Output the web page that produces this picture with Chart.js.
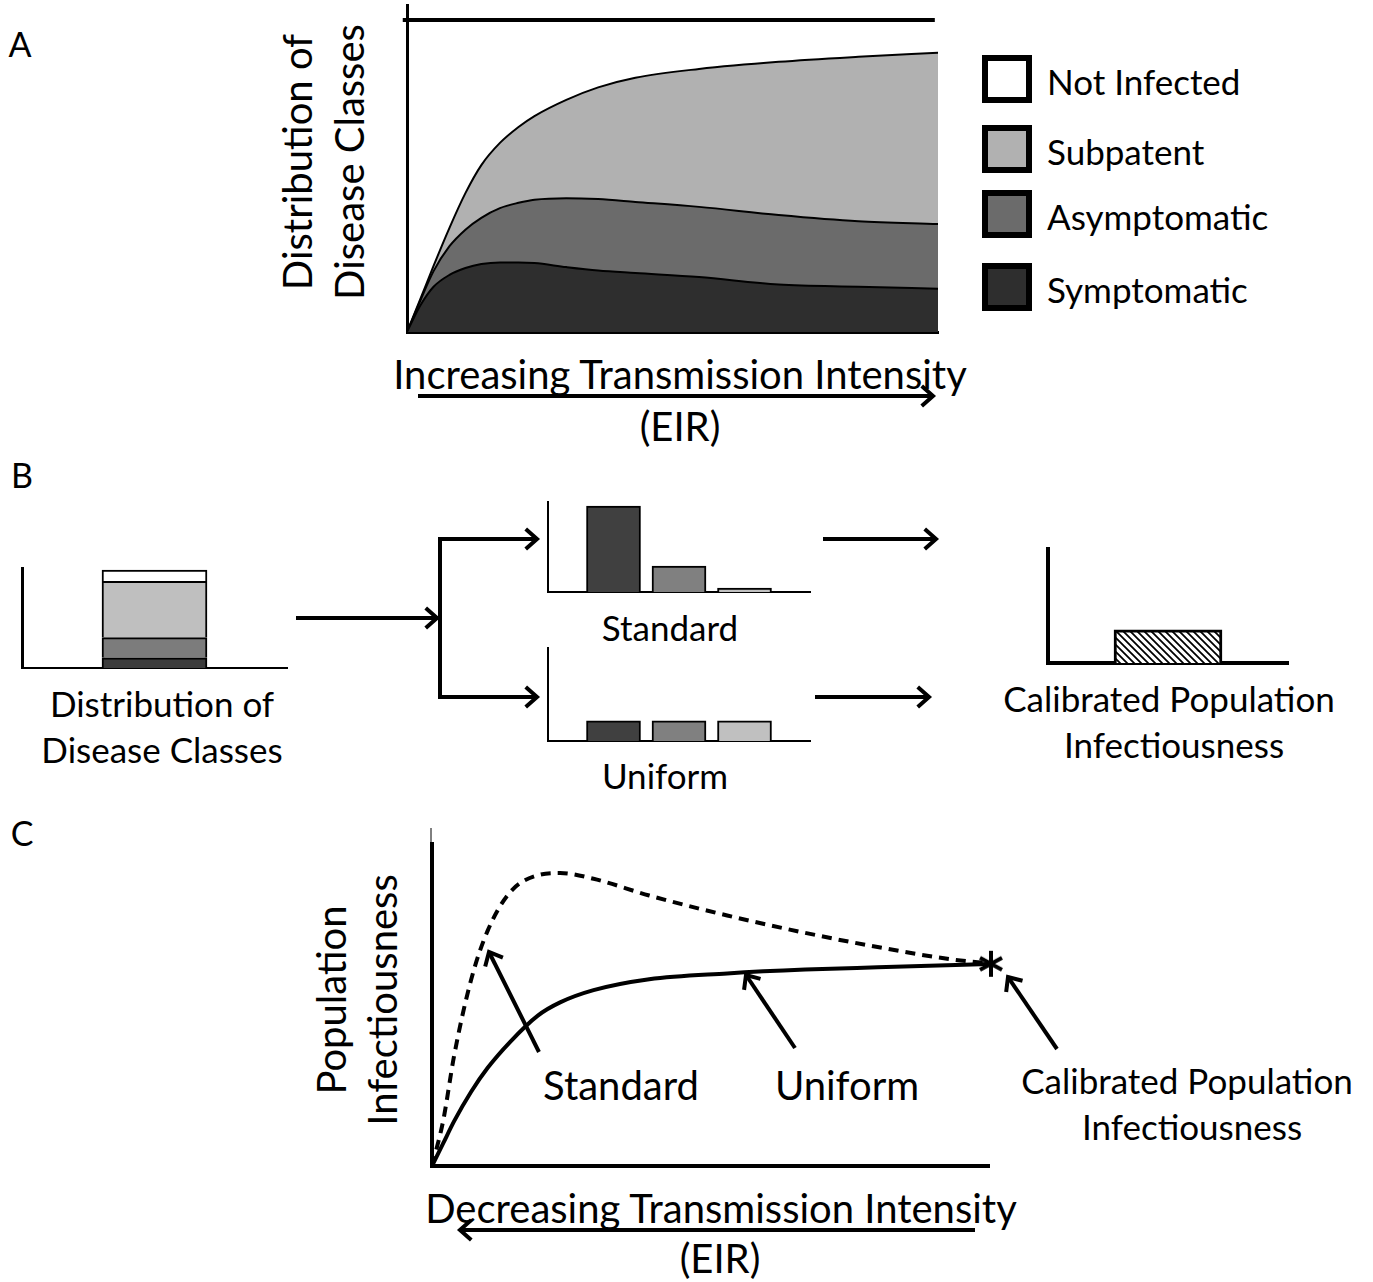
<!DOCTYPE html>
<html>
<head>
<meta charset="utf-8">
<title>Disease classes and population infectiousness</title>
<script src="https://cdn.jsdelivr.net/npm/chart.js@4.4.1/dist/chart.umd.min.js"></script>
<style>
  body { margin: 0; background: #fff; }
  #page { position: relative; width: 1373px; height: 1282px; overflow: hidden; font-family: Lato, "Open Sans", sans-serif; color: #000; }
  canvas { position: absolute; }
  .t { position: absolute; white-space: nowrap; font-size: 35px; line-height: 1; transform: translate(-50%, -50%); }
  .big { font-size: 40px; }
  .rot { position: absolute; white-space: nowrap; font-size: 40px; line-height: 52px; text-align: center; transform: translate(-50%, -50%) rotate(-90deg); }
  .key { position: absolute; left: 982px; width: 38px; height: 36px; border: 6px solid #000; }
  .keytxt { position: absolute; left: 1047px; font-size: 35px; line-height: 1; transform: translateY(-50%); white-space: nowrap; }
  svg { position: absolute; left: 0; top: 0; }
</style>
</head>
<body>
<div id="page">
  <div class="t" style="left:20px;top:44px;font-size:34px">A</div>
  <div class="t" style="left:22px;top:475px;font-size:34px">B</div>
  <div class="t" style="left:22px;top:833px;font-size:34px">C</div>

  <!-- panel A text -->
  <div class="rot" style="left:323px;top:162px">Distribution of<br>Disease Classes</div>
  <div class="t big" style="left:680px;top:374px">Increasing Transmission Intensity</div>
  <div class="t big" style="left:680px;top:426px">(EIR)</div>
  <div id="legendA"></div>

  <!-- panel B text -->
  <div class="t" style="left:162px;top:703px">Distribution of</div>
  <div class="t" style="left:162px;top:749px">Disease Classes</div>
  <div class="t" style="left:670px;top:627px">Standard</div>
  <div class="t" style="left:665px;top:775px">Uniform</div>
  <div class="t" style="left:1169px;top:698px">Calibrated Population</div>
  <div class="t" style="left:1174px;top:744px">Infectiousness</div>

  <!-- panel C text -->
  <div class="rot" style="left:357px;top:1000px;line-height:51px">Population<br>Infectiousness</div>
  <div class="t big" style="left:621px;top:1085px">Standard</div>
  <div class="t big" style="left:847px;top:1085px">Uniform</div>
  <div class="t" style="left:1187px;top:1080px">Calibrated Population</div>
  <div class="t" style="left:1192px;top:1126px">Infectiousness</div>
  <div class="t big" style="left:721px;top:1208px">Decreasing Transmission Intensity</div>
  <div class="t big" style="left:720px;top:1258px">(EIR)</div>

  <svg id="arrows" width="1373" height="1282"></svg>
</div>

<script>
// ---- data ----

// panel A: upper boundary of each (cumulative) disease class along EIR
const eirA = [0, 0.025, 0.05, 0.08, 0.11, 0.14, 0.175, 0.21, 0.24, 0.3, 0.36, 0.43, 0.55, 0.7, 0.85, 1.0];
const symptomaticTop = [0, 0.085, 0.145, 0.183, 0.205, 0.218, 0.223, 0.223, 0.221, 0.208, 0.197, 0.189, 0.176, 0.152, 0.145, 0.139];
const asymptomaticTop = [0, 0.1, 0.195, 0.275, 0.328, 0.366, 0.397, 0.414, 0.424, 0.429, 0.426, 0.417, 0.401, 0.375, 0.355, 0.346];
const subpatentTop = [0, 0.105, 0.212, 0.334, 0.445, 0.535, 0.606, 0.657, 0.692, 0.744, 0.784, 0.815, 0.843, 0.866, 0.882, 0.895];
const notInfectedTop = 1;

const classNames = ['Not Infected', 'Subpatent', 'Asymptomatic', 'Symptomatic'];
const classColors = ['#ffffff', '#b1b1b1', '#6b6b6b', '#2e2e2e'];

// panel B
const stackClasses = ['Symptomatic', 'Asymptomatic', 'Subpatent', 'Not Infected'];
const stackShares = [10.5, 20.5, 57.5, 11.5];
const stackColors = ['#3c3c3c', '#7c7c7c', '#bfbfbf', '#ffffff'];
const infectClasses = ['Symptomatic', 'Asymptomatic', 'Subpatent'];
const infectColors = ['#404040', '#808080', '#c0c0c0'];
const standardInfect = [86, 26, 4];
const uniformInfect = [19.5, 19.5, 19.5];
const calibratedInfect = [29];

// panel C
const eirC = [0, 0.02, 0.04, 0.07, 0.1, 0.14, 0.19, 0.23, 0.29, 0.39, 0.53, 0.67, 0.8, 0.94, 1.0];
const standardCurve = [0, 0.14, 0.345, 0.577, 0.731, 0.85, 0.903, 0.91, 0.892, 0.84, 0.778, 0.724, 0.68, 0.64, 0.63];
const uniformCurve = [0, 0.07, 0.14, 0.23, 0.305, 0.385, 0.467, 0.508, 0.546, 0.58, 0.598, 0.61, 0.617, 0.624, 0.627];
const calibratedPoint = { x: 1.0, y: 0.628 };

// ---- helpers ----
const PAD = 14;
const page = document.getElementById('page');

// canvas sized so that the chart area lands on (left, top, w, h)
function makeChart(left, top, w, h, config) {
  const cv = document.createElement('canvas');
  cv.width = w + 2 * PAD;
  cv.height = h + 2 * PAD;
  cv.style.left = (left - PAD) + 'px';
  cv.style.top = (top - PAD) + 'px';
  page.insertBefore(cv, document.getElementById('arrows'));
  return new Chart(cv, config);
}

function axis(extra, width, horizontal) {
  return Object.assign({
    grid: { display: false, drawTicks: false },
    ticks: { display: false },
    border: { display: true, color: '#000', width: width },
    afterFit: s => { if (horizontal) s.height = 0; else s.width = 0; }
  }, extra);
}

function baseOptions(xs, ys) {
  return {
    responsive: false,
    animation: false,
    layout: { padding: PAD },
    plugins: { legend: { display: false }, tooltip: { enabled: false } },
    scales: { x: xs, y: ys }
  };
}

const pts = (xs, ys) => xs.map((x, i) => ({ x: x, y: ys[i] }));

// ---- panel A ----
const lineStyle = { borderColor: '#000', borderWidth: 2, pointRadius: 0, cubicInterpolationMode: 'monotone' };
makeChart(407, 5, 531, 327, {
  type: 'line',
  data: {
    datasets: [
      Object.assign({ label: 'Symptomatic', data: pts(eirA, symptomaticTop), fill: 'origin', backgroundColor: classColors[3] }, lineStyle),
      Object.assign({ label: 'Asymptomatic', data: pts(eirA, asymptomaticTop), fill: '-1', backgroundColor: classColors[2] }, lineStyle),
      Object.assign({ label: 'Subpatent', data: pts(eirA, subpatentTop), fill: '-1', backgroundColor: classColors[1] }, lineStyle),
      { label: 'Not Infected', data: [{ x: -0.008, y: notInfectedTop }, { x: 0.994, y: notInfectedTop }],
        borderColor: '#000', borderWidth: 4, pointRadius: 0, fill: false, clip: false }
    ]
  },
  options: baseOptions(
    axis({ type: 'linear', min: 0, max: 1 }, 3, true),
    axis({ min: 0, max: 1.048 }, 3, false)
  )
});

// legend for panel A
const keyTops = [55, 125, 190, 263];
const legendA = document.getElementById('legendA');
classNames.forEach((name, i) => {
  const box = document.createElement('div');
  box.className = 'key';
  box.style.top = keyTops[i] + 'px';
  box.style.background = classColors[i];
  legendA.appendChild(box);
  const txt = document.createElement('div');
  txt.className = 'keytxt';
  txt.style.top = (keyTops[i] + 26) + 'px';
  txt.textContent = name;
  legendA.appendChild(txt);
});

// ---- panel B ----
makeChart(22, 568, 265, 100, {
  type: 'bar',
  data: {
    labels: [''],
    datasets: stackClasses.map((c, i) => ({
      label: c, data: [stackShares[i]], backgroundColor: stackColors[i],
      borderColor: '#000', borderWidth: 2, barThickness: 105
    }))
  },
  options: baseOptions(
    axis({ stacked: true }, 2, true),
    axis({ stacked: true, min: 0, max: 102 }, 3, false)
  )
});

function classBars(top, h, values) {
  makeChart(548, top, 262, h, {
    type: 'bar',
    data: {
      datasets: [{
        label: 'Infectivity',
        data: values.map((v, i) => ({ x: i + 1, y: v })),
        backgroundColor: infectColors, borderColor: '#000', borderWidth: 2, barThickness: 54
      }]
    },
    options: baseOptions(
      axis({ type: 'linear', min: 0, max: 4, offset: false }, 2, true),
      axis({ min: 0, max: 90 }, 2, false)
    )
  });
}
classBars(502, 90, standardInfect);
classBars(648, 93, uniformInfect);

// hatched fill for the calibrated bar
const tile = document.createElement('canvas');
tile.width = tile.height = 7;
const g = tile.getContext('2d');
g.fillStyle = '#fff';
g.fillRect(0, 0, 7, 7);
g.strokeStyle = '#000';
g.lineWidth = 1.8;
g.beginPath();
g.moveTo(-1, -1); g.lineTo(8, 8);
g.moveTo(-4.5, 2.5); g.lineTo(1.5, 8.5);
g.moveTo(2.5, -4.5); g.lineTo(8.5, 1.5);
g.stroke();
const hatch = g.createPattern(tile, 'repeat');

makeChart(1048, 549, 240, 114, {
  type: 'bar',
  data: {
    labels: [''],
    datasets: [{ label: 'Calibrated Population Infectiousness', data: calibratedInfect,
      backgroundColor: hatch, borderColor: '#000', borderWidth: 3, barThickness: 108 }]
  },
  options: baseOptions(axis({}, 4, true), axis({ min: 0, max: 100 }, 4, false))
});

// asterisk marker for the calibration point
const star = document.createElement('canvas');
star.width = 28; star.height = 30;
const sg = star.getContext('2d');
sg.strokeStyle = '#000';
sg.lineWidth = 4;
sg.beginPath();
sg.moveTo(16, 2); sg.lineTo(16, 28);
sg.moveTo(5, 9); sg.lineTo(27, 21);
sg.moveTo(5, 21); sg.lineTo(27, 9);
sg.stroke();

// ---- panel C ----
makeChart(431, 843, 559, 324, {
  type: 'line',
  data: {
    datasets: [
      { label: 'Standard', data: pts(eirC, standardCurve), borderColor: '#000', borderWidth: 4,
        borderDash: [10, 7], pointRadius: 0, cubicInterpolationMode: 'monotone', fill: false },
      { label: 'Uniform', data: pts(eirC, uniformCurve), borderColor: '#000', borderWidth: 4,
        pointRadius: 0, cubicInterpolationMode: 'monotone', fill: false },
      { label: 'Calibrated', data: [calibratedPoint], showLine: false, pointStyle: star,
        pointRadius: 14, clip: false }
    ]
  },
  options: baseOptions(
    axis({ type: 'linear', min: 0, max: 1 }, 4, true),
    axis({ min: 0, max: 1 }, 4, false)
  )
});

// ---- arrows and connectors ----
const svg = document.getElementById('arrows');
const NS = 'http://www.w3.org/2000/svg';
function seg(pointsStr, w) {
  const p = document.createElementNS(NS, 'polyline');
  p.setAttribute('points', pointsStr);
  p.setAttribute('fill', 'none');
  p.setAttribute('stroke', '#000');
  p.setAttribute('stroke-width', w);
  p.setAttribute('stroke-linejoin', 'miter');
  svg.appendChild(p);
}
function head(x1, y1, x2, y2, w, len) {
  const a = Math.atan2(y2 - y1, x2 - x1);
  const s = 0.72;
  seg(`${x2 - len * Math.cos(a - s)},${y2 - len * Math.sin(a - s)} ${x2},${y2} ${x2 - len * Math.cos(a + s)},${y2 - len * Math.sin(a + s)}`, w);
}
function arrow(x1, y1, x2, y2, w = 4, len = 15) {
  seg(`${x1},${y1} ${x2},${y2}`, w);
  head(x1, y1, x2, y2, w, len);
}

arrow(418, 396, 933, 396);
arrow(296, 618, 437, 618);
seg('537,539 440,539 440,697 537,697', 4);
head(440, 539, 537, 539, 4, 15);
head(440, 697, 537, 697, 4, 15);
arrow(823, 539, 936, 539);
arrow(815, 697, 929, 697);

seg('431,828 431,843', 1);
arrow(539, 1052, 489, 952);
arrow(795, 1048, 746, 975);
arrow(1057, 1049, 1008, 977);
arrow(975, 1230, 460, 1230);
</script>
</body>
</html>
